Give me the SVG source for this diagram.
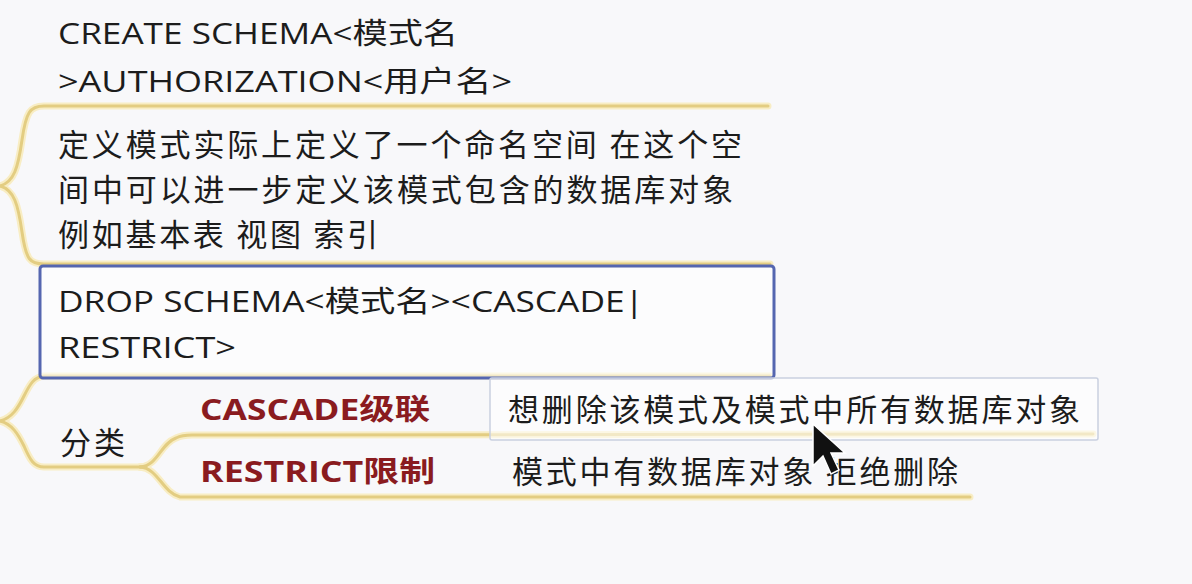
<svg xmlns="http://www.w3.org/2000/svg" width="1192" height="584" viewBox="0 0 1192 584">
<defs>
<style>
.bg{fill:#f8f8fa}
.glow{fill:none;stroke:#f8edc4;stroke-width:7;stroke-linecap:round}
.ln{fill:none;stroke:#e3cd82;stroke-width:3;stroke-linecap:round}
.t{font-family:"Open Sans","Noto Sans CJK SC",sans-serif;font-size:29px;fill:#1c1c1c}
.c{font-family:"Noto Sans CJK SC",sans-serif;font-size:31px;fill:#1c1c1c}
.r{font-family:"Open Sans","Noto Sans CJK SC",sans-serif;font-size:29px;font-weight:bold;fill:#8a1b1f}
</style>
</defs>
<rect class="bg" x="0" y="0" width="1192" height="584"/>
<g id="connectors">
<path class="glow" d="M0,186 C14,182 18,168 22,140 C26,112 30,106 44,106 L768,106"/>
<path class="glow" d="M0,186 C14,190 18,204 22,232 C26,260 30,264 44,264 L770,264"/>
<path class="glow" d="M0,421 C12,418 18,408 24,396 C30,384 34,377 44,376 L770,376"/>
<path class="glow" d="M0,421 C12,424 18,434 24,446 C30,460 34,467 44,467 L146,467"/>
<path class="glow" d="M140,467 C158,466 160,444 176,438 C180,436 184,435 192,435 L1093,434"/>
<path class="glow" d="M140,467 C158,468 162,492 180,497 L970,497"/>
<path class="ln" d="M0,186 C14,182 18,168 22,140 C26,112 30,106 44,106 L768,106"/>
<path class="ln" d="M0,186 C14,190 18,204 22,232 C26,260 30,264 44,264 L770,264"/>
<path class="ln" d="M0,421 C12,418 18,408 24,396 C30,384 34,377 44,376 L770,376"/>
<path class="ln" d="M0,421 C12,424 18,434 24,446 C30,460 34,467 44,467 L146,467"/>
<path class="ln" d="M140,467 C158,466 160,444 176,438 C180,436 184,435 192,435 L1093,434"/>
<path class="ln" d="M140,467 C158,468 162,492 180,497 L970,497"/>
</g>
<g id="node-create">
<text class="t" x="58" y="44" textLength="400" lengthAdjust="spacingAndGlyphs">CREATE SCHEMA&lt;模式名</text>
<text class="t" x="58" y="92" textLength="454" lengthAdjust="spacingAndGlyphs">&gt;AUTHORIZATION&lt;用户名&gt;</text>
</g>
<g id="node-define">
<text class="c" x="58" y="156" textLength="684" lengthAdjust="spacing">定义模式实际上定义了一个命名空间 在这个空</text>
<text class="c" x="58" y="201" textLength="675" lengthAdjust="spacing">间中可以进一步定义该模式包含的数据库对象</text>
<text class="c" x="58" y="246" textLength="320" lengthAdjust="spacing">例如基本表 视图 索引</text>
</g>
<g id="node-drop">
<rect x="40" y="266" width="734" height="112" rx="3" fill="#ffffff" fill-opacity="0.55" stroke="#5566b0" stroke-width="3"/>
<text class="t" x="58" y="312" textLength="586" lengthAdjust="spacingAndGlyphs">DROP SCHEMA&lt;模式名&gt;&lt;CASCADE|</text>
<text class="t" x="58" y="358" textLength="178" lengthAdjust="spacingAndGlyphs">RESTRICT&gt;</text>
</g>
<g id="node-category">
<text class="c" x="60" y="454" textLength="65" lengthAdjust="spacing">分类</text>
</g>
<g id="node-cascade">
<text class="r" x="200" y="420" textLength="230" lengthAdjust="spacingAndGlyphs">CASCADE级联</text>
</g>
<g id="node-restrict">
<text class="r" x="200" y="482" textLength="235" lengthAdjust="spacingAndGlyphs">RESTRICT限制</text>
</g>
<g id="node-cascade-desc">
<rect x="490" y="378" width="608" height="62" rx="2" fill="#ffffff" fill-opacity="0.55" stroke="#c9d0e0" stroke-width="1.5"/>
<text class="c" x="508" y="421" textLength="572" lengthAdjust="spacing">想删除该模式及模式中所有数据库对象</text>
</g>
<g id="node-restrict-desc">
<text class="c" x="512" y="483" textLength="446" lengthAdjust="spacing">模式中有数据库对象 拒绝删除</text>
</g>
<path d="M813,424 L813,466 L823,456 L831,474 L839,470 L831,453 L845,453 Z" fill="#111" stroke="#fff" stroke-width="1.5"/>
</svg>
